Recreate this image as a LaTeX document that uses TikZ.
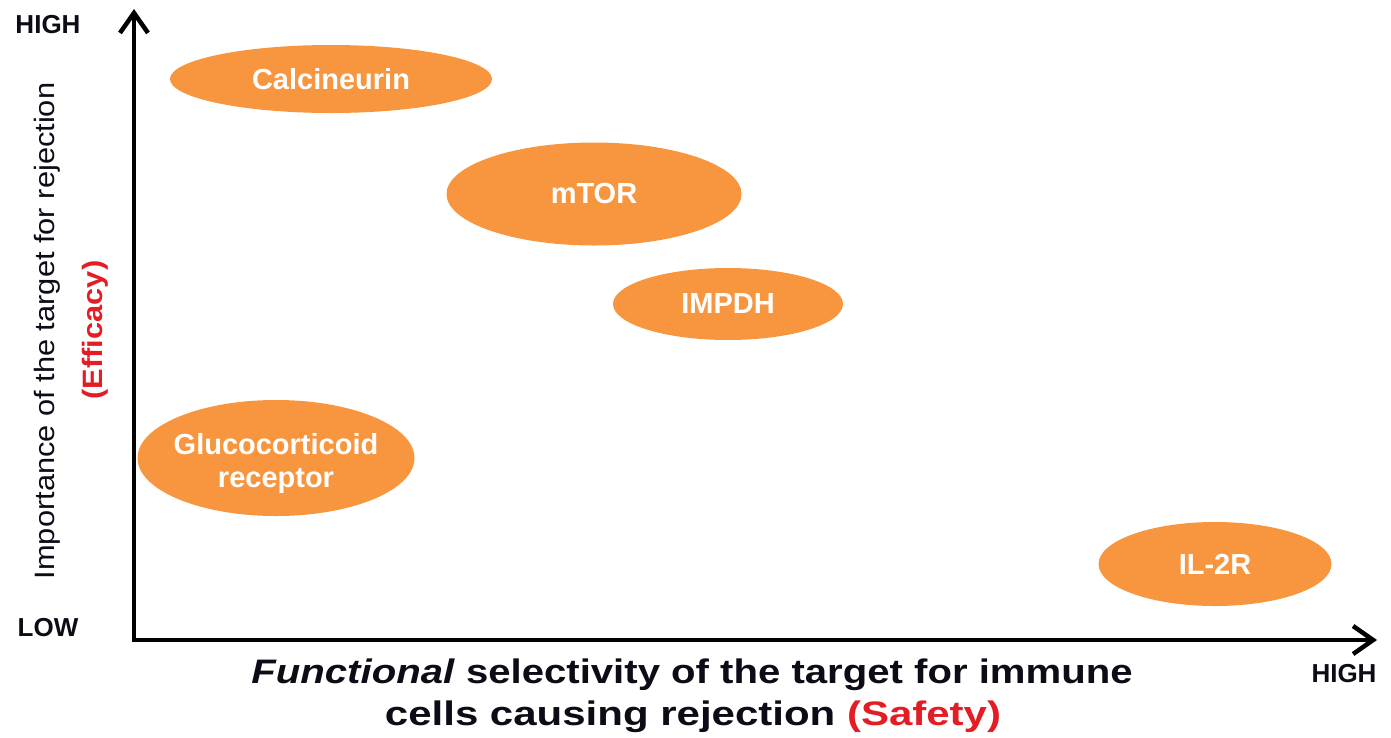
\documentclass[tikz,border=0pt]{standalone}
\usepackage{fontspec}
\usepackage{graphicx}
\setmainfont{Liberation Sans}
\usetikzlibrary{shapes.geometric,arrows.meta}
\definecolor{blob}{RGB}{247,150,62}
\definecolor{accent}{RGB}{228,28,36}
\definecolor{ink}{RGB}{12,12,22}
\begin{document}
\begin{tikzpicture}[x=1pt,y=-1pt,
  blobnode/.style={ellipse, fill=blob, draw=none, inner sep=0pt, text=white,
    font=\fontsize{29}{33}\selectfont\bfseries, align=center},
  blobtext/.style={inner sep=0pt, text=white, font=\fontsize{29}{33}\selectfont\bfseries, align=center},
  levellabel/.style={font=\fontsize{26}{30}\selectfont\bfseries, text=ink, inner sep=0pt},
  axisline/.style={line width=4.5pt, draw=black, -{Straight Barb[length=20pt,width=28pt]}},
  ylab/.style={rotate=90, inner sep=0pt, text=ink, font=\fontsize{28}{32}\selectfont},
  xlab/.style={inner sep=0pt, text=ink, font=\fontsize{34}{38}\selectfont\bfseries}]
\useasboundingbox (0,0) rectangle (1391,737);
% axes
\coordinate (origin) at (134,640);
\coordinate (ytip) at (134,9);
\coordinate (xtip) at (1377,640);
\draw[axisline, line cap=butt] ([yshift=2.25pt]origin) -- (ytip);
\draw[axisline] ([xshift=-2.25pt]origin) -- (xtip);
% level labels
\node[levellabel] (yhigh) at (48,25) {HIGH};
\node[levellabel] (ylow) at (48,628) {LOW};
\node[levellabel] (xhigh) at (1344,674) {HIGH};
% axis titles
\node[ylab] (ytitle) at (47,331) {\scalebox{1.1}[1]{Importance of the target for rejection}};
\node[ylab, text=accent, font=\fontsize{28}{32}\selectfont\bfseries] (ytitleb) at (95,330) {\scalebox{1.1}[1]{(Efficacy)}};
\node[xlab] (xtitle) at (692,675) {\scalebox{1.18}[1]{\textit{Functional} selectivity of the target for immune}};
\node[xlab] (xtitleb) at (693,717) {\scalebox{1.235}[1]{cells causing rejection \textcolor{accent}{(Safety)}}};
% targets
\node[blobnode, minimum width=322pt, minimum height=68pt] (calc) at (331,79) {Calcineurin};
\node[blobnode, minimum width=295pt, minimum height=103pt] (mtor) at (594,194) {mTOR};
\node[blobnode, minimum width=230pt, minimum height=72pt] (impdh) at (728,304) {IMPDH};
\node[blobnode, minimum width=277pt, minimum height=116pt] (gluco) at (276,458) {};
\node[blobtext] (glucotext) at (276,463) {Glucocorticoid\\receptor};
\node[blobnode, minimum width=233pt, minimum height=84pt] (il2r) at (1215,564) {IL-2R};
\end{tikzpicture}
\end{document}
